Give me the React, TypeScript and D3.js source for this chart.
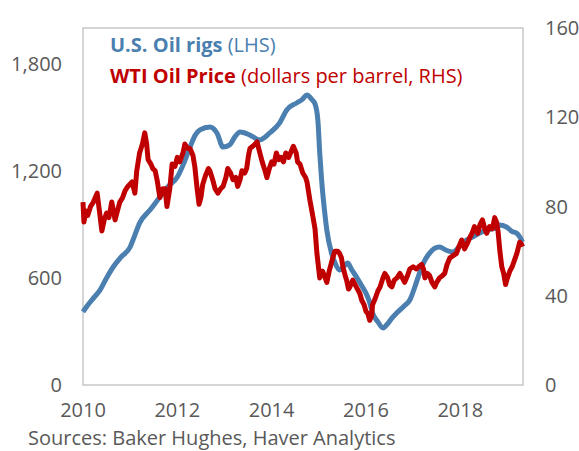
import * as d3 from "d3";

// Baker Hughes U.S. oil rig count (LHS)
const rigYears = [
  2010.0, 2010.08, 2010.2, 2010.36, 2010.5, 2010.64, 2010.8, 2011.0, 2011.1, 2011.2, 2011.42, 2011.63,
  2011.8, 2012.0, 2012.15, 2012.27, 2012.38, 2012.48, 2012.69, 2012.84, 2012.97, 2013.11, 2013.22,
  2013.33, 2013.54, 2013.75, 2013.96, 2014.17, 2014.32, 2014.53, 2014.65, 2014.75, 2014.85, 2014.92,
  2014.98, 2015.02, 2015.06, 2015.12, 2015.17, 2015.27, 2015.35, 2015.44, 2015.55, 2015.61, 2015.7,
  2015.8, 2015.9, 2016.0, 2016.07, 2016.14, 2016.25, 2016.36, 2016.45, 2016.55, 2016.65, 2016.8,
  2016.93, 2017.05, 2017.14, 2017.25, 2017.35, 2017.45, 2017.56, 2017.7, 2017.84, 2018.0, 2018.13,
  2018.27, 2018.41, 2018.6, 2018.75, 2018.83, 2018.98, 2019.1, 2019.19, 2019.26, 2019.32,
];
const rigValues = [
  410, 440, 480, 532, 600, 661, 715, 773, 840, 907, 980, 1053,
  1110, 1165, 1250, 1333, 1400, 1429, 1445, 1412, 1333, 1345, 1390,
  1417, 1400, 1373, 1412, 1468, 1541, 1580, 1600, 1625, 1600, 1575,
  1485, 1300, 1148, 980, 868, 739, 680, 644, 670, 683, 645,
  605, 560, 515, 470, 403, 355, 319, 340, 375, 403, 440,
  476, 560, 630, 700, 739, 765, 773, 755, 745, 780, 812,
  830, 851, 870, 880, 896, 885, 860, 851, 830, 801,
];

// WTI oil price, dollars per barrel (RHS)
const priceYears = [
  2010.0, 2010.02, 2010.06, 2010.1, 2010.16, 2010.22, 2010.3, 2010.36, 2010.4, 2010.45, 2010.5, 2010.55,
  2010.61, 2010.68, 2010.73, 2010.78, 2010.84, 2010.89, 2010.95, 2011.04, 2011.1, 2011.14, 2011.2,
  2011.26, 2011.31, 2011.35, 2011.38, 2011.44, 2011.48, 2011.53, 2011.57, 2011.63, 2011.69, 2011.74,
  2011.78, 2011.84, 2011.89, 2011.95, 2012.0, 2012.05, 2012.12, 2012.16, 2012.22, 2012.27, 2012.33,
  2012.37, 2012.42, 2012.46, 2012.5, 2012.54, 2012.6, 2012.66, 2012.69, 2012.75, 2012.8, 2012.86,
  2012.92, 2012.97, 2013.03, 2013.07, 2013.13, 2013.18, 2013.24, 2013.28, 2013.33, 2013.37, 2013.43,
  2013.47, 2013.51, 2013.54, 2013.6, 2013.65, 2013.69, 2013.75, 2013.8, 2013.86, 2013.9, 2013.95,
  2014.0, 2014.05, 2014.1, 2014.15, 2014.2, 2014.25, 2014.3, 2014.36, 2014.4, 2014.46, 2014.52,
  2014.55, 2014.6, 2014.66, 2014.72, 2014.75, 2014.81, 2014.87, 2014.92, 2014.96, 2015.02, 2015.08,
  2015.12, 2015.17, 2015.22, 2015.27, 2015.34, 2015.4, 2015.44, 2015.48, 2015.51, 2015.56, 2015.59,
  2015.63, 2015.66, 2015.7, 2015.72, 2015.77, 2015.82, 2015.87, 2015.91, 2015.96, 2016.0, 2016.04,
  2016.08, 2016.12, 2016.14, 2016.2, 2016.25, 2016.3, 2016.36, 2016.4, 2016.46, 2016.5, 2016.55,
  2016.6, 2016.66, 2016.72, 2016.77, 2016.82, 2016.88, 2016.93, 2017.0, 2017.07, 2017.12, 2017.18,
  2017.22, 2017.25, 2017.3, 2017.35, 2017.4, 2017.46, 2017.5, 2017.56, 2017.62, 2017.67, 2017.72,
  2017.78, 2017.85, 2017.92, 2017.97, 2018.03, 2018.09, 2018.14, 2018.2, 2018.25, 2018.3, 2018.37,
  2018.42, 2018.47, 2018.52, 2018.56, 2018.62, 2018.68, 2018.73, 2018.77, 2018.8, 2018.84, 2018.88,
  2018.92, 2018.96, 2019.0, 2019.05, 2019.1, 2019.15, 2019.2, 2019.26, 2019.3, 2019.32,
];
const priceValues = [
  82, 73, 78, 76, 80, 82, 86, 76, 69, 74, 77, 75,
  82, 74, 78, 82, 84, 87, 89, 91, 86, 96, 104,
  108, 113, 108, 101, 99, 97, 96, 92, 84, 88, 88,
  80, 88, 99, 98, 102, 100, 104, 108, 106, 106, 103,
  98, 88, 81, 84, 90, 94, 97, 96, 92, 88, 86,
  88, 89, 93, 97, 95, 92, 93, 89, 92, 96, 95,
  97, 103, 106, 107, 108, 109, 104, 100, 96, 93, 97,
  100, 99, 104, 101, 102, 100, 104, 102, 104, 107, 104,
  100, 99, 95, 93, 91, 83, 76, 70, 59, 48, 51,
  49, 46, 51, 55, 60, 60, 59, 57, 53, 49, 47,
  43, 44, 46, 47, 45, 43, 41, 38, 36, 33, 32,
  29, 31, 36, 39, 42, 44, 48, 50, 48, 45, 44,
  47, 48, 50, 48, 46, 49, 52, 53, 52, 53, 54,
  52, 48, 50, 49, 46, 44, 46, 48, 49, 50, 54,
  57, 58, 59, 62, 65, 61, 63, 66, 68, 71, 68,
  72, 74, 70, 68, 71, 70, 75, 73, 69, 60, 53,
  50, 45, 48, 51, 53, 56, 59, 64, 63, 62,
];

const leftTicks = [0, 600, 1200, 1800];
const rightTicks = [0, 40, 80, 120, 160];
const yearTicks = [2010, 2012, 2014, 2016, 2018];

const W = 579;
const H = 451;
const FONT = "'Open Sans', sans-serif";
const GREY = "#595959";
const BLUE = "#4a7fb0";
const RED = "#c00000";

export default function App() {
  const left = 83, right = 523, top = 28, bottom = 385;

  const x = d3.scaleLinear().domain([2010, 2019.33]).range([left, right]);
  const yL = d3.scaleLinear().domain([0, 2000]).range([bottom, top]);
  const yR = d3.scaleLinear().domain([0, 160]).range([bottom, top]);

  const rigLine = d3.line<number>()
    .x((_, i) => x(rigYears[i]))
    .y((d) => yL(d))
    .curve(d3.curveMonotoneX);
  const priceLine = d3.line<number>()
    .x((_, i) => x(priceYears[i]))
    .y((d) => yR(d));

  const fmt = d3.format(",");

  return (
    <svg width={W} height={H} style={{ position: "absolute", left: 0, top: 0, background: "#fff" }} fontFamily={FONT}>
      <rect x={left} y={top} width={right - left} height={bottom - top} fill="none" stroke="#bfbfbf" strokeWidth={1.3} />

      {leftTicks.map((t) => (
        <text key={"l" + t} x={62} y={yL(t)} dy="0.35em" textAnchor="end" fontSize={20} fill={GREY}>
          {fmt(t)}
        </text>
      ))}
      {rightTicks.map((t) => (
        <text key={"r" + t} x={545} y={yR(t)} dy="0.35em" textAnchor="start" fontSize={20} fill={GREY}>
          {t}
        </text>
      ))}
      {yearTicks.map((t) => (
        <text key={"x" + t} x={x(t)} y={410} dy="0.35em" textAnchor="middle" fontSize={20} fill={GREY}>
          {t}
        </text>
      ))}

      <path d={rigLine(rigValues) ?? ""} fill="none" stroke={BLUE} strokeWidth={5} strokeLinejoin="round" />
      <path d={priceLine(priceValues) ?? ""} fill="none" stroke={RED} strokeWidth={5} strokeLinejoin="round" />

      <text x={110} y={45} dy="0.35em" fontSize={20} fill={BLUE}>
        <tspan fontWeight="bold">U.S. Oil rigs</tspan> (LHS)
      </text>
      <text x={110} y={76} dy="0.35em" fontSize={20} fill={RED}>
        <tspan fontWeight="bold">WTI Oil Price</tspan> (dollars per barrel, RHS)
      </text>

      <text x={28} y={438} dy="0.35em" fontSize={20} fill={GREY}>
        Sources: Baker Hughes, Haver Analytics
      </text>
    </svg>
  );
}
